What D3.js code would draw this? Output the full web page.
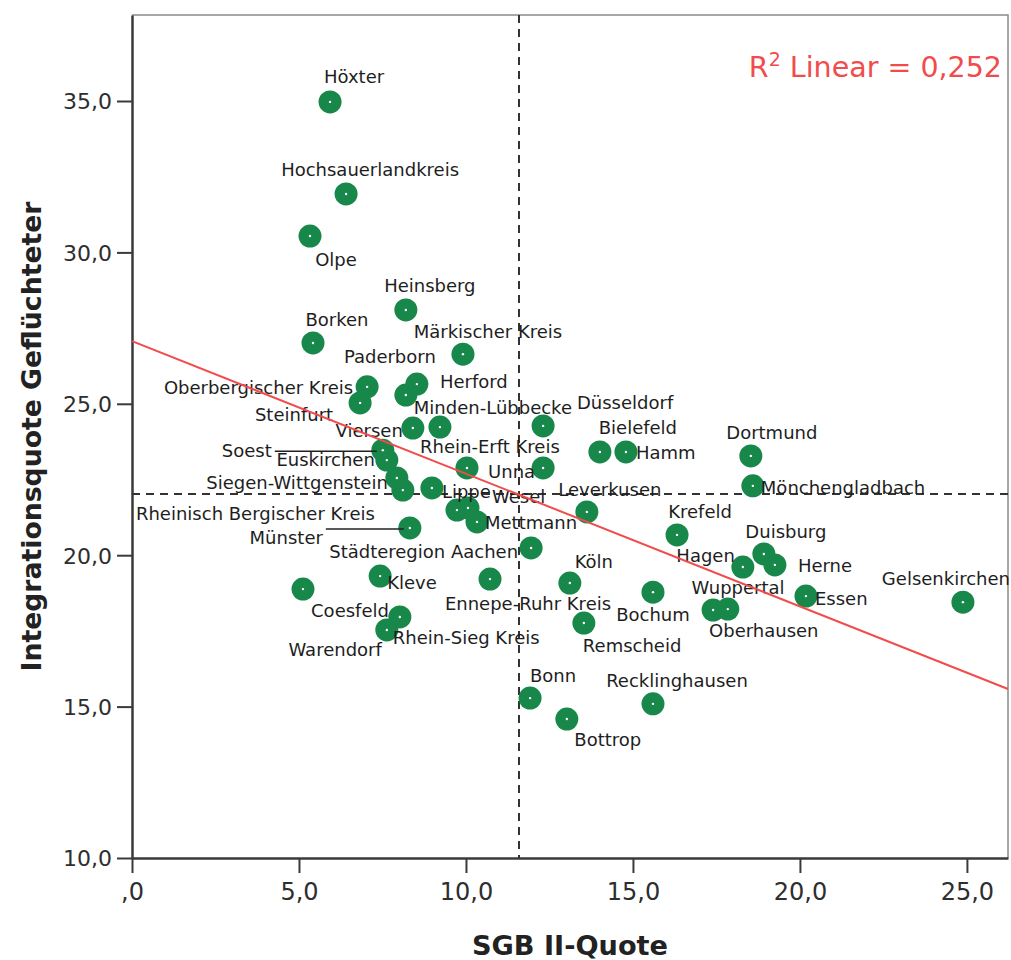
<!DOCTYPE html>
<html>
<head>
<meta charset="utf-8">
<script src="https://cdn.jsdelivr.net/npm/d3@7"></script>
<style>
  body { margin: 0; background: #fff; }
  svg { display: block; }
</style>
</head>
<body>
<svg id="chart" width="1011" height="960"></svg>
<script>
// Kreise und kreisfreie Städte in NRW
const districts = [
  "Höxter", "Hochsauerlandkreis", "Olpe", "Heinsberg", "Borken",
  "Märkischer Kreis", "Oberbergischer Kreis", "Steinfurt", "Herford", "Paderborn",
  "Viersen", "Minden-Lübbecke", "Düsseldorf", "Bielefeld", "Hamm",
  "Dortmund", "Mönchengladbach", "Soest", "Euskirchen", "Siegen-Wittgenstein",
  "Rheinisch Bergischer Kreis", "Lippe", "Rhein-Erft Kreis", "Unna", "",
  "Wesel", "Mettmann", "Münster", "Leverkusen", "Krefeld",
  "Städteregion Aachen", "Duisburg", "Herne", "Hagen", "Wuppertal",
  "Oberhausen", "Essen", "Gelsenkirchen", "Köln", "Ennepe-Ruhr Kreis",
  "Kleve", "Coesfeld", "Rhein-Sieg Kreis", "Warendorf", "Bochum",
  "Remscheid", "Bonn", "Bottrop", "Recklinghausen"
];

// SGB II-Quote (x)
const sgbQuote = [
  5.93, 6.41, 5.33, 8.20, 5.42,
  9.91, 7.04, 6.83, 8.53, 8.20,
  8.41, 9.22, 12.31, 14.01, 14.79,
  18.53, 18.59, 7.51, 7.63, 7.93,
  8.11, 8.98, 10.03, 12.31, 9.73,
  10.06, 10.33, 8.32, 13.62, 16.32,
  11.95, 18.92, 19.25, 18.29, 17.40,
  17.84, 20.18, 24.88, 13.11, 10.72,
  7.43, 5.12, 8.02, 7.63, 15.60,
  13.53, 11.92, 13.02, 15.60
];

// Integrationsquote Geflüchteter (y)
const integrationQuote = [
  34.97, 31.93, 30.54, 28.10, 27.01,
  26.64, 25.56, 25.03, 25.65, 25.29,
  24.20, 24.23, 24.27, 23.41, 23.41,
  23.28, 22.29, 23.47, 23.14, 22.55,
  22.15, 22.22, 22.88, 22.88, 21.49,
  21.56, 21.10, 20.90, 21.43, 20.67,
  20.24, 20.04, 19.68, 19.61, 18.19,
  18.22, 18.65, 18.45, 19.08, 19.21,
  19.31, 18.88, 17.96, 17.53, 18.78,
  17.76, 15.28, 14.59, 15.09
];

const xTickValues = [0, 5, 10, 15, 20, 25];
const xTickLabels = [",0", "5,0", "10,0", "15,0", "20,0", "25,0"];
const yTickValues = [10, 15, 20, 25, 30, 35];
const yTickLabels = ["10,0", "15,0", "20,0", "25,0", "30,0", "35,0"];

// Linear fit and reference lines (means)
const fitIntercept = 27.07;
const fitSlope = -0.438;
const fitR2Text = "0,252";
const meanSgb = 11.59;
const meanIntegration = 22.02;

// Label placement: [anchor, dx, dy, leader]
const labelPlacement = [
  ["middle", 24, -25], ["middle", 24, -24], ["middle", 26, 23], ["middle", 24, -24], ["middle", 24, -23],
  ["middle", 25, -23], ["end", -14, 1], ["end", -27, 12], ["start", 23, -3], ["middle", -16, -38],
  ["end", -10, 2], ["middle", 53, -20], ["middle", 82, -23], ["middle", 38, -24], ["start", 10, 1],
  ["middle", 21, -23], ["start", 8, 2], ["end", -111, 0, true], ["end", -12, -1], ["end", -9, 5],
  ["end", -28, 23], ["start", 10, 4], ["middle", 23, -21], ["end", -8, 4], null,
  ["start", 24, -11], ["start", 8, 1], ["end", -87, 10, true], ["middle", 23, -22], ["middle", 23, -23],
  ["end", -13, 4], ["middle", 22, -22], ["start", 23, 1], ["end", -8, -11], ["middle", 25, -22],
  ["middle", 36, 21], ["start", 9, 2], ["middle", -17, -24], ["middle", 24, -22], ["middle", 38, 24],
  ["start", 7, 6], ["middle", 47, 21], ["start", -7, 21], ["end", -5, 20], ["middle", 0, 22],
  ["start", -1, 22], ["middle", 23, -23], ["middle", 41, 21], ["middle", 24, -23]
];

const points = districts.map((name, i) => ({
  name, x: sgbQuote[i], y: integrationQuote[i], place: labelPlacement[i]
}));

const svg = d3.select("#chart");
const plot = { left: 132, right: 1008, top: 15, bottom: 858 };

const x = d3.scaleLinear().domain([0, 26.23]).range([plot.left, plot.right]);
const y = d3.scaleLinear().domain([10, 37.84]).range([plot.bottom, plot.top]);

const axisColor = "#3a3a3a";
const labelFont = "'DejaVu Sans', Verdana, sans-serif";

// Frame (top and right)
svg.append("path")
  .attr("d", `M${plot.left},${plot.top}H${plot.right}V${plot.bottom}`)
  .attr("fill", "none").attr("stroke", "#8a8a8a").attr("stroke-width", 1.5);

// Axes
const xAxis = d3.axisBottom(x)
  .tickValues(xTickValues)
  .tickFormat((d, i) => xTickLabels[i])
  .tickSize(15).tickPadding(10).tickSizeOuter(0);
const yAxis = d3.axisLeft(y)
  .tickValues(yTickValues)
  .tickFormat((d, i) => yTickLabels[i])
  .tickSize(15).tickPadding(5).tickSizeOuter(0);

const gx = svg.append("g").attr("transform", `translate(0,${plot.bottom})`).call(xAxis);
const gy = svg.append("g").attr("transform", `translate(${plot.left},0)`).call(yAxis);

[gx, gy].forEach(g => {
  g.select(".domain").attr("stroke", axisColor).attr("stroke-width", 2.5);
  g.selectAll(".tick line").attr("stroke", axisColor).attr("stroke-width", 2);
  g.selectAll(".tick text")
    .attr("fill", "#2e2e2e")
    .style("font-family", labelFont)
    .style("font-size", "24px");
});
gy.selectAll(".tick text").attr("dy", "0.36em").style("font-size", "22px");
gx.selectAll(".tick text").attr("dy", "0.72em");

// Axis titles
svg.append("text")
  .attr("x", (plot.left + plot.right) / 2)
  .attr("y", 955)
  .attr("text-anchor", "middle")
  .attr("textLength", 196).attr("lengthAdjust", "spacingAndGlyphs")
  .attr("fill", "#222")
  .style("font-family", labelFont).style("font-weight", "bold").style("font-size", "26px")
  .text("SGB II-Quote");

svg.append("text")
  .attr("transform", `translate(41,${(plot.top + plot.bottom) / 2}) rotate(-90)`)
  .attr("text-anchor", "middle")
  .attr("textLength", 470).attr("lengthAdjust", "spacingAndGlyphs")
  .attr("fill", "#222")
  .style("font-family", labelFont).style("font-weight", "bold").style("font-size", "26px")
  .text("Integrationsquote Geflüchteter");

// Reference lines at the means
const xMean = Math.round(x(meanSgb));
const yMean = Math.round(y(meanIntegration));
svg.append("line")
  .attr("x1", xMean).attr("x2", xMean)
  .attr("y1", plot.top).attr("y2", plot.bottom)
  .attr("stroke", "#333").attr("stroke-width", 2).attr("stroke-dasharray", "8,6");
svg.append("line")
  .attr("x1", plot.left).attr("x2", plot.right)
  .attr("y1", yMean).attr("y2", yMean)
  .attr("stroke", "#333").attr("stroke-width", 2).attr("stroke-dasharray", "8,6");

// Points
const gPts = svg.append("g");
gPts.selectAll("circle.pt").data(points).join("circle")
  .attr("class", "pt")
  .attr("cx", d => x(d.x)).attr("cy", d => y(d.y))
  .attr("r", 11.5)
  .attr("fill", "#17884a");
gPts.selectAll("circle.core").data(points).join("circle")
  .attr("class", "core")
  .attr("cx", d => x(d.x)).attr("cy", d => y(d.y))
  .attr("r", 1.2)
  .attr("fill", "#fff");

// Labels
const labeled = points.filter(d => d.name && d.place);
const gLab = svg.append("g");
gLab.selectAll("text").data(labeled).join("text")
  .attr("x", d => x(d.x) + d.place[1])
  .attr("y", d => y(d.y) + d.place[2])
  .attr("dy", "0.36em")
  .attr("text-anchor", d => d.place[0])
  .attr("fill", "#1e1e1e")
  .style("font-family", labelFont)
  .style("font-size", "18px")
  .text(d => d.name);

// Leader lines for displaced labels
gLab.selectAll("line").data(labeled.filter(d => d.place[3])).join("line")
  .attr("x1", d => x(d.x) + d.place[1] + 3)
  .attr("x2", d => x(d.x) - 6)
  .attr("y1", d => y(d.y) + 1).attr("y2", d => y(d.y) + 1)
  .attr("stroke", "#222").attr("stroke-width", 1.5);

// Linear fit line
const fitColor = "#f24b4b";
svg.append("line")
  .attr("x1", x(0)).attr("y1", y(fitIntercept))
  .attr("x2", x(26.23)).attr("y2", y(fitIntercept + fitSlope * 26.23))
  .attr("stroke", fitColor).attr("stroke-width", 2);

const r2 = svg.append("text")
  .attr("x", 1002).attr("y", 77)
  .attr("text-anchor", "end")
  .attr("fill", fitColor)
  .style("font-family", labelFont)
  .style("font-size", "28.5px");
r2.append("tspan").text("R");
r2.append("tspan").attr("dy", -11).style("font-size", "19px").text("2");
r2.append("tspan").attr("dy", 11).text(" Linear = " + fitR2Text);
</script>
</body>
</html>
